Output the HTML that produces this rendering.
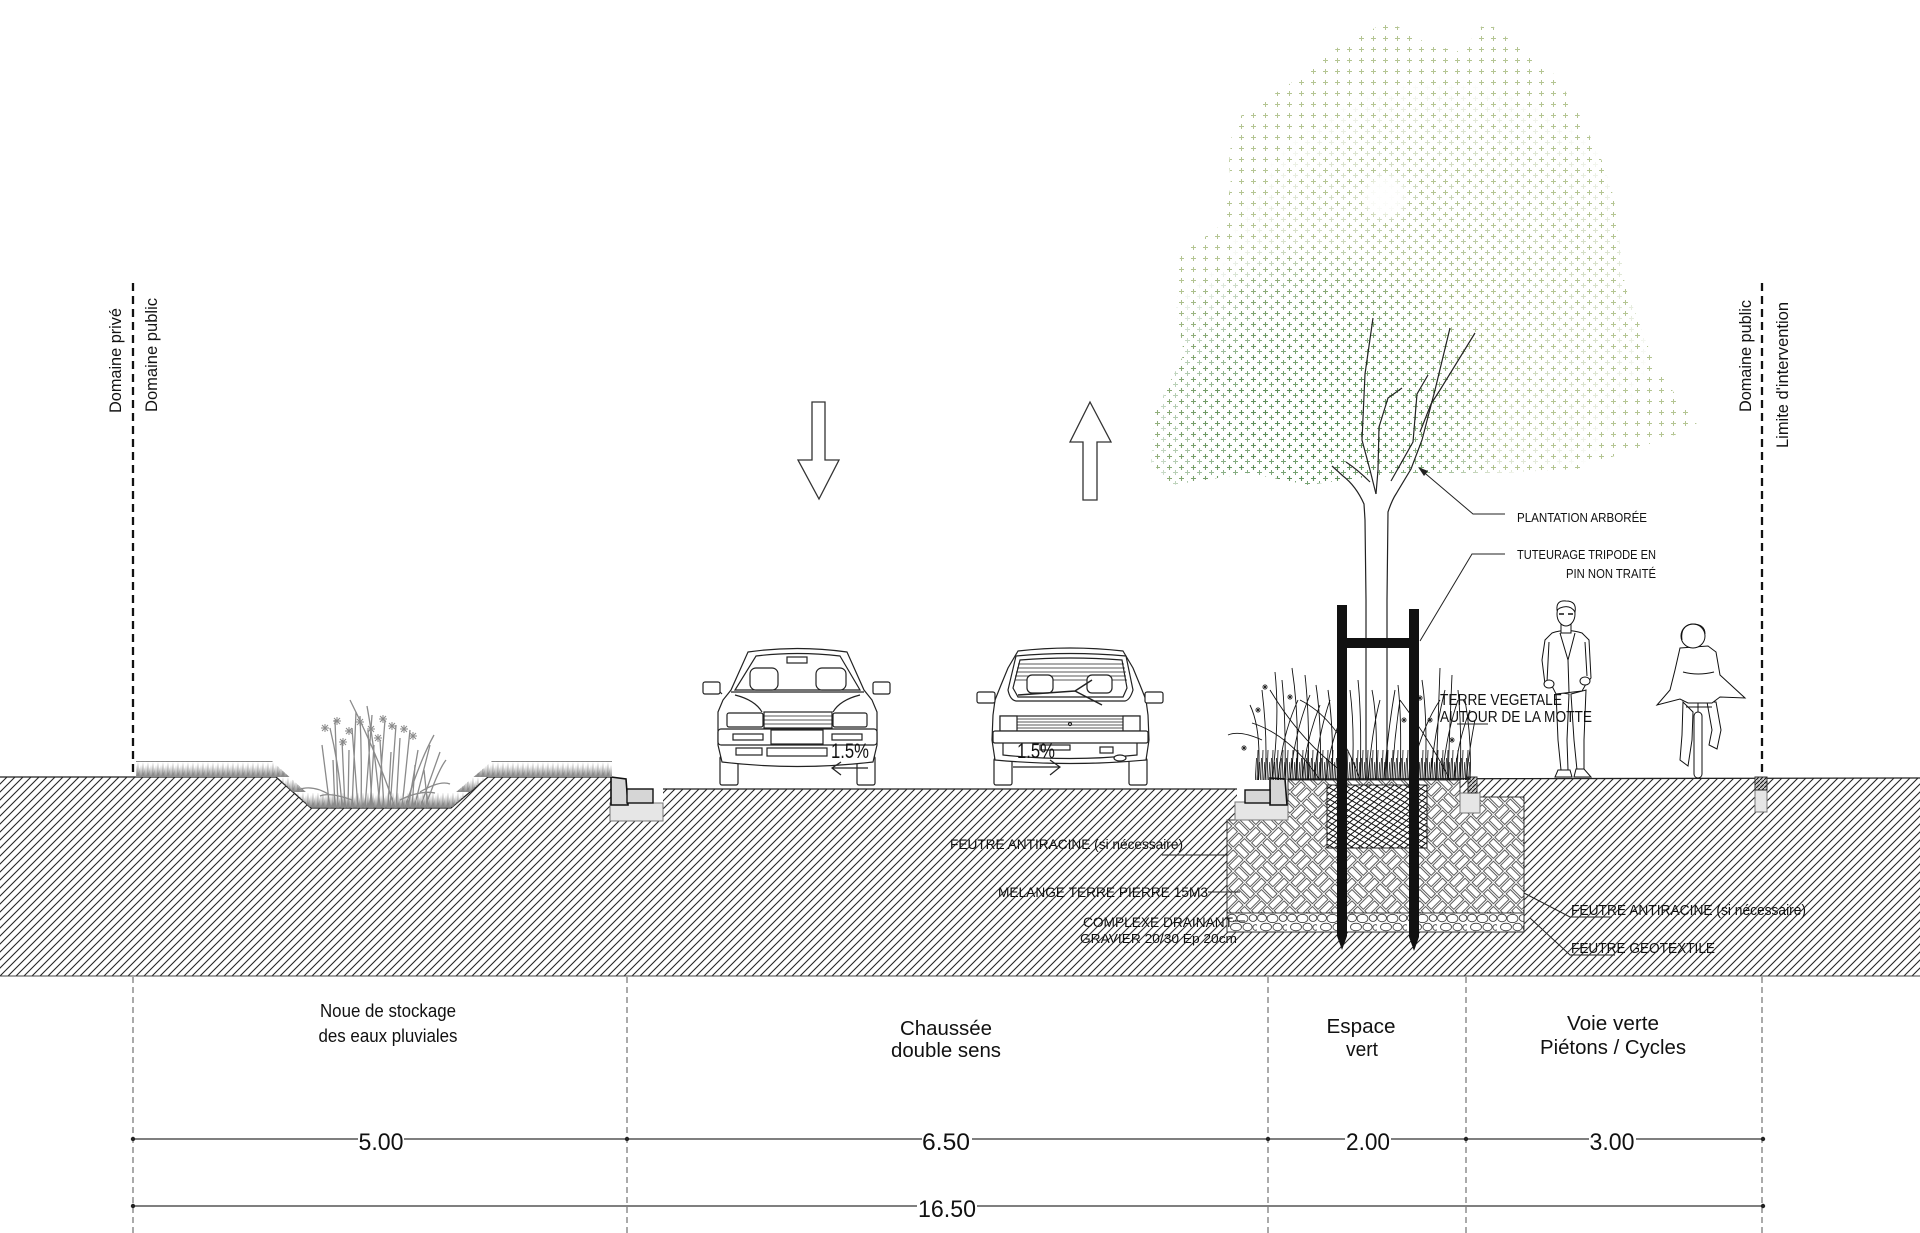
<!DOCTYPE html>
<html><head><meta charset="utf-8">
<style>
html,body{margin:0;padding:0;background:#fff}
svg{display:block}
text{font-family:"Liberation Sans",Arial,sans-serif;fill:#111}
</style></head>
<body>
<svg width="1920" height="1233" viewBox="0 0 1920 1233" xmlns="http://www.w3.org/2000/svg">
<defs>
  <pattern id="hatch" width="8" height="8" patternUnits="userSpaceOnUse">
    <path d="M-1,9 L9,-1 M-1,1 L1,-1 M7,9 L9,7" stroke="#262626" stroke-width="1.1"/>
  </pattern>
  <pattern id="hatchd" width="4" height="4" patternUnits="userSpaceOnUse">
    <rect width="4" height="4" fill="#ccc"/>
    <path d="M-1,5 L5,-1" stroke="#111" stroke-width="1"/>
  </pattern>
  <pattern id="weave" width="32" height="32" patternUnits="userSpaceOnUse" patternTransform="rotate(45)">
    <rect width="32" height="32" fill="#fff"/>
    <g fill="none" stroke="#333" stroke-width="0.8">
      <rect x="1" y="1" width="14" height="6"/><rect x="1" y="9" width="14" height="6"/>
      <rect x="17" y="1" width="6" height="14"/><rect x="25" y="1" width="6" height="14"/>
      <rect x="1" y="17" width="6" height="14"/><rect x="9" y="17" width="6" height="14"/>
      <rect x="17" y="17" width="14" height="6"/><rect x="17" y="25" width="14" height="6"/>
    </g>
  </pattern>
  <pattern id="gravel" x="1227" y="913" width="30" height="19" patternUnits="userSpaceOnUse">
    <g fill="none" stroke="#333" stroke-width="0.8">
      <ellipse cx="5" cy="5" rx="4.5" ry="3.8"/><ellipse cx="15.5" cy="5.5" rx="5.5" ry="4.2"/>
      <ellipse cx="26" cy="5" rx="3.8" ry="3.4"/><ellipse cx="9" cy="14" rx="5.5" ry="3.8"/>
      <ellipse cx="20.5" cy="14" rx="4.6" ry="3.8"/><ellipse cx="28.5" cy="14.5" rx="2.6" ry="2.8"/>
    </g>
  </pattern>
  <pattern id="xh1" width="5" height="5" patternUnits="userSpaceOnUse" patternTransform="rotate(30)">
    <path d="M0,2.5 H5" stroke="#111" stroke-width="1"/>
  </pattern>
  <pattern id="xh2" width="5" height="5" patternUnits="userSpaceOnUse" patternTransform="rotate(-40)">
    <path d="M0,2.5 H5" stroke="#111" stroke-width="1"/>
  </pattern>
  <pattern id="grassG" x="0" y="762" width="5" height="15" patternUnits="userSpaceOnUse">
    <path d="M0,15 L1,3 L2,15 Z M1.8,15 L3,0 L4,15 Z M3.4,15 L4.5,5 L5,15 Z" fill="#8a8a8a"/>
  </pattern>
  <pattern id="grassB" x="0" y="750" width="5" height="30" patternUnits="userSpaceOnUse">
    <path d="M0.3,30 L1.5,8 M2,30 L3,0 M3.6,30 L4.8,12" stroke="#111" stroke-width="0.8" fill="none"/>
  </pattern>
  <pattern id="plusL" width="12" height="11" patternUnits="userSpaceOnUse">
    <path d="M3,5.5 h5 M5.5,3 v5" stroke="#b4c592" stroke-width="1"/>
  </pattern>
  <pattern id="plusM" x="6" y="5" width="12" height="11" patternUnits="userSpaceOnUse">
    <path d="M3,5.5 h5 M5.5,3 v5" stroke="#a4b985" stroke-width="1"/>
  </pattern>
  <pattern id="plusD" width="12" height="11" patternUnits="userSpaceOnUse">
    <path d="M3,5.5 h5 M5.5,3 v5" stroke="#4f8550" stroke-width="1.1"/>
  </pattern>
  <pattern id="plusD2" x="6" y="5" width="12" height="11" patternUnits="userSpaceOnUse">
    <path d="M3,5.5 h5 M5.5,3 v5" stroke="#62945d" stroke-width="1"/>
  </pattern>
  <clipPath id="canopy">
    <path d="M1388,21 L1337,48 L1297,79 L1233,121 L1229,163 L1231,186 L1220,226 L1180,255 L1176,308 L1184,354 L1155,412 L1151,462 L1173,485 L1249,473 L1308,485 L1395,473 L1504,473 L1577,469 L1632,450 L1686,431 L1697,423 L1657,370 L1625,286 L1614,198 L1603,163 L1577,110 L1555,75 L1515,44 L1486,21 L1461,52 L1428,44 L1395,25 Z"/>
  </clipPath>
  <radialGradient id="rgD" gradientUnits="userSpaceOnUse" cx="1310" cy="430" r="190">
    <stop offset="0" stop-color="#fff"/><stop offset="0.5" stop-color="#fff" stop-opacity="0.75"/><stop offset="1" stop-color="#000"/>
  </radialGradient>
  <radialGradient id="rgM" gradientUnits="userSpaceOnUse" cx="1440" cy="300" r="220">
    <stop offset="0" stop-color="#fff"/><stop offset="0.6" stop-color="#fff" stop-opacity="0.5"/><stop offset="1" stop-color="#000"/>
  </radialGradient>
  <radialGradient id="rgH" gradientUnits="userSpaceOnUse" cx="1385" cy="196" r="26">
    <stop offset="0" stop-color="#fff"/><stop offset="0.6" stop-color="#fff" stop-opacity="0.9"/><stop offset="1" stop-color="#fff" stop-opacity="0"/>
  </radialGradient>
  <mask id="mD" maskUnits="userSpaceOnUse" x="1100" y="0" width="700" height="520">
    <rect x="1100" y="0" width="700" height="520" fill="url(#rgD)"/>
  </mask>
  <mask id="mM" maskUnits="userSpaceOnUse" x="1100" y="0" width="700" height="520">
    <rect x="1100" y="0" width="700" height="520" fill="url(#rgM)"/>
  </mask>
  <g id="flw"><path d="M-4,0 h8 M0,-4 v8 M-3,-3 l6,6 M3,-3 l-6,6" stroke="#8a8a8a" stroke-width="1"/></g>
  <g id="flb"><path d="M-3,0 h6 M0,-3 v6 M-2,-2 l4,4 M2,-2 l-4,4" stroke="#222" stroke-width="0.8"/></g>
</defs>

<rect width="1920" height="1233" fill="#fff"/>

<!-- ===== Ground hatch ===== -->
<path d="M0,777 L276,777 L311,808 L451,808 L488,777 L611,777 L611,821 L663,821 L663,789 L1237,789 L1237,820 L1288,820 L1288,779 L1920,778 L1920,976 L0,976 Z" fill="url(#hatch)"/>
<line x1="0" y1="976" x2="1920" y2="976" stroke="#444" stroke-width="1"/>

<!-- planting pit -->
<path d="M1227,820 L1288,820 L1288,780 L1460,780 L1460,797 L1524,797 L1524,913 L1227,913 Z" fill="url(#weave)" stroke="#333" stroke-width="1"/>
<rect x="1227" y="913" width="297" height="19" fill="#fff"/>
<rect x="1227" y="913" width="297" height="19" fill="url(#gravel)" stroke="#333" stroke-width="1"/>
<rect x="1327" y="785" width="100" height="63" fill="#fff"/>
<rect x="1327" y="785" width="100" height="63" fill="url(#xh1)"/>
<rect x="1327" y="785" width="100" height="63" fill="url(#xh2)" stroke="#222" stroke-width="1"/>

<!-- ground outline -->
<path d="M0,777 L276,777 L311,808 L451,808 L488,777 L611,777 M663,789 L1237,789 M1288,779 L1920,778" fill="none" stroke="#222" stroke-width="1.3"/>

<!-- curbs -->
<g stroke="#333" stroke-width="1">
  <rect x="610" y="803" width="53" height="18" fill="#e6e6e6" stroke="#777"/>
  <path d="M611,777 L626,779 L628,805 L611,805 Z" fill="#d6d6d6" stroke="#111" stroke-width="1.6"/>
  <rect x="627" y="789" width="26" height="14" fill="#d6d6d6" stroke="#111" stroke-width="1.4"/>
  <rect x="1235" y="802" width="53" height="18" fill="#e6e6e6" stroke="#777"/>
  <path d="M1270,778 L1285,779 L1287,805 L1270,805 Z" fill="#d6d6d6" stroke="#111" stroke-width="1.6"/>
  <rect x="1245" y="790" width="25" height="13" fill="#d6d6d6" stroke="#111" stroke-width="1.4"/>
  <rect x="1460" y="793" width="20" height="20" fill="#e6e6e6" stroke="#777"/>
  <rect x="1468" y="777" width="9" height="16" fill="url(#hatchd)" stroke="#333"/>
  <rect x="1755" y="790" width="12" height="22" fill="#e6e6e6" stroke="#777"/>
  <rect x="1755" y="777" width="12" height="13" fill="url(#hatchd)" stroke="#333"/>
</g>

<!-- ===== Boundary dashed lines ===== -->
<g stroke="#111" stroke-width="2.3" stroke-dasharray="8 5">
  <line x1="133" y1="283" x2="133" y2="777"/>
  <line x1="1762" y1="283" x2="1762" y2="777"/>
</g>
<text transform="translate(121,360.5) rotate(-90)" text-anchor="middle" font-size="16.5" textLength="105" lengthAdjust="spacingAndGlyphs">Domaine privé</text>
<text transform="translate(157,355) rotate(-90)" text-anchor="middle" font-size="16.5" textLength="114" lengthAdjust="spacingAndGlyphs">Domaine public</text>
<text transform="translate(1751,356) rotate(-90)" text-anchor="middle" font-size="16.5" textLength="112" lengthAdjust="spacingAndGlyphs">Domaine public</text>
<text transform="translate(1788,375) rotate(-90)" text-anchor="middle" font-size="16.5" textLength="146" lengthAdjust="spacingAndGlyphs">Limite d'intervention</text>

<!-- ===== Noue grass ===== -->
<path d="M136,761 L272,761 L307,793 L455,793 L492,761 L612,761 L612,777 L488,777 L451,808 L311,808 L276,777 L136,777 Z" fill="url(#grassG)"/>
<g stroke="#8a8a8a" stroke-width="1.3" fill="none">
  <path d="M330,808 L322,745 M338,808 L335,720 M345,808 L342,740 M352,808 L356,712 M358,808 L352,728 M365,808 L372,715 M372,808 L368,730 M378,808 L385,720 M384,808 L380,740 M390,808 L396,725 M396,808 L400,738 M402,808 L410,730 M408,808 L418,750 M414,808 L430,745 M420,808 L440,752"/>
  <path d="M395,808 Q380,760 350,700 M380,808 Q375,750 367,706 M361,808 Q362,760 360,716 M342,808 Q340,770 330,728 M405,808 Q420,760 434,735 M425,808 Q438,770 446,760"/>
  <path d="M330,795 Q312,784 298,790 M420,792 Q440,780 450,784 M352,800 Q330,792 320,796 M400,800 Q420,790 435,793"/>
  <path d="M335,808 L333,760 M348,808 L349,750 M370,808 L374,745 M388,808 L391,752 M412,808 L415,765 M428,808 L424,770"/>
</g>
<g>
  <use href="#flw" x="325" y="728"/><use href="#flw" x="337" y="721"/><use href="#flw" x="349" y="731"/>
  <use href="#flw" x="360" y="722"/><use href="#flw" x="371" y="729"/><use href="#flw" x="383" y="719"/>
  <use href="#flw" x="392" y="726"/><use href="#flw" x="404" y="729"/><use href="#flw" x="413" y="736"/>
  <use href="#flw" x="343" y="742"/><use href="#flw" x="378" y="738"/>
</g>

<!-- ===== Direction arrows ===== -->
<g fill="#fff" stroke="#333" stroke-width="1.3">
  <path d="M812,402 L825,402 L825,460 L839,460 L819,499 L798,460 L812,460 Z"/>
  <path d="M1090,402 L1111,442 L1097,442 L1097,500 L1083,500 L1083,442 L1070,442 Z"/>
</g>

<!-- ===== Car 1 (front) ===== -->
<g fill="#fff" stroke="#222" stroke-width="1.2">
  <rect x="720" y="756" width="18" height="29" rx="2"/>
  <rect x="857" y="756" width="18" height="29" rx="2"/>
  <path d="M748,652 Q797,645 847,652 L864,690 L872,700 L877,712 L877,745 L873,762 Q797,771 722,762 L718,745 L718,712 L723,700 L731,690 Z"/>
  <path d="M756,656 Q797,651 840,656 L860,690 L735,690 Z"/>
  <rect x="750" y="668" width="28" height="22" rx="6"/>
  <rect x="816" y="668" width="30" height="22" rx="6"/>
  <rect x="787" y="657" width="20" height="6"/>
  <path d="M731,692 L864,692 M735,695 Q755,700 762,712 M860,695 Q840,700 833,712" fill="none"/>
  <path d="M722,694 L716,688" fill="none"/>
  <rect x="703" y="682" width="17" height="12" rx="2"/>
  <path d="M873,694 L879,688" fill="none"/>
  <rect x="873" y="682" width="17" height="12" rx="2"/>
  <rect x="727" y="713" width="36" height="14" rx="2"/>
  <rect x="833" y="713" width="34" height="14" rx="2"/>
  <rect x="764" y="712" width="68" height="16"/>
  <path d="M764,716 H832 M764,720 H832 M764,724 H832" fill="none" stroke-width="0.8"/>
  <rect x="718" y="729" width="159" height="16" rx="3"/>
  <rect x="771" y="730" width="52" height="14"/>
  <rect x="733" y="734" width="30" height="6"/>
  <rect x="832" y="734" width="30" height="6"/>
  <rect x="736" y="748" width="26" height="7"/>
  <rect x="767" y="748" width="60" height="8"/>
</g>
<text x="831" y="758" font-size="21" textLength="38" lengthAdjust="spacingAndGlyphs">1.5%</text>
<path d="M832,768 L868,768 M841,762 L832,768 L841,775" fill="none" stroke="#222" stroke-width="1.2"/>

<!-- ===== Car 2 (rear) ===== -->
<g fill="#fff" stroke="#222" stroke-width="1.2">
  <rect x="994" y="758" width="18" height="27" rx="2"/>
  <rect x="1129" y="758" width="18" height="27" rx="2"/>
  <path d="M1018,651 Q1070,645 1123,651 L1133,668 L1140,685 L1146,700 L1148,715 L1149,740 L1146,760 Q1070,767 995,760 L992,740 L993,715 L995,700 L1001,685 L1008,668 Z"/>
  <path d="M1016,656 Q1070,651 1126,656 L1133,690 Q1130,700 1125,701 L1016,701 Q1010,700 1008,690 Z"/>
  <path d="M1020,660 Q1070,656 1122,660 L1127,688 L1123,697 L1018,697 L1013,688 Z"/>
  <path d="M1018,664 H1124 M1017,668 H1125 M1016,672 H1126 M1015,676 H1126 M1015,680 H1127" fill="none" stroke-width="0.7"/>
  <rect x="1027" y="675" width="26" height="18" rx="5"/>
  <rect x="1087" y="675" width="25" height="18" rx="5"/>
  <path d="M1018,695 L1075,691 M1075,691 L1092,680 M1075,691 L1102,705" fill="none" stroke-width="1.5"/>
  <rect x="977" y="692" width="18" height="11" rx="2"/>
  <rect x="1145" y="692" width="18" height="11" rx="2"/>
  <rect x="1000" y="716" width="140" height="15"/>
  <path d="M1017,719 H1123 M1017,722 H1123 M1017,725 H1123 M1017,728 H1123" fill="none" stroke-width="0.7"/>
  <rect x="1000" y="716" width="17" height="15"/>
  <rect x="1123" y="716" width="17" height="15"/>
  <rect x="993" y="731" width="155" height="12" rx="2"/>
  <path d="M1003,743 L1003,755 Q1070,762 1137,755 L1137,743" fill="none"/>
  <rect x="1100" y="747" width="13" height="6"/>
  <ellipse cx="1120" cy="758" rx="6" ry="3"/>
  <rect x="1040" y="745" width="30" height="5"/>
  <circle cx="1070" cy="724" r="1.5"/>
</g>
<text x="1017" y="758" font-size="21" textLength="38" lengthAdjust="spacingAndGlyphs">1.5%</text>
<path d="M1013,767 L1060,767 M1050,760 L1060,767 L1050,775" fill="none" stroke="#222" stroke-width="1.2"/>

<!-- ===== Tree canopy ===== -->
<g clip-path="url(#canopy)">
  <rect x="1140" y="10" width="570" height="490" fill="url(#plusL)"/>
  <rect x="1140" y="10" width="570" height="490" fill="url(#plusM)" mask="url(#mM)"/>
  <rect x="1140" y="10" width="570" height="490" fill="url(#plusD)" mask="url(#mD)"/>
  <rect x="1140" y="10" width="570" height="490" fill="url(#plusD2)" mask="url(#mD)"/>
  <ellipse cx="1385" cy="196" rx="24" ry="28" fill="url(#rgH)"/>
</g>

<!-- trunk & branches -->
<g fill="none" stroke="#222" stroke-width="1.2">
  <path d="M1366,780 L1366,600 L1365,520 L1364,504 Q1356,486 1343,476 L1332,466"/>
  <path d="M1370,482 Q1358,470 1346,462"/>
  <path d="M1387,780 L1387,600 L1388,512 Q1392,500 1396,494 L1411,469 L1422,440 L1435,390 L1450,328"/>
  <path d="M1391,481 L1413,442 L1417,394 L1428,375"/>
  <path d="M1475,333 L1440,390 L1431,404 L1420,432"/>
  <path d="M1376,494 L1378,470 L1379,427 L1388,398 L1402,388"/>
  <path d="M1373,318 L1365,374 L1362,440 L1370,470 L1376,494"/>
</g>

<!-- pit plants -->
<rect x="1255" y="750" width="215" height="30" fill="url(#grassB)"/>
<g fill="none" stroke="#111" stroke-width="0.9">
  <path d="M1258,780 Q1262,730 1250,705 M1265,780 Q1268,740 1262,690 M1272,780 Q1280,720 1275,672 M1278,780 Q1282,735 1298,700 M1285,780 Q1286,720 1282,680 M1290,780 Q1295,730 1310,695 M1296,780 Q1300,720 1292,668 M1302,780 Q1306,740 1320,705 M1308,780 Q1310,720 1305,675 M1314,780 Q1318,735 1330,700 M1320,780 Q1322,725 1316,685 M1326,780 Q1330,740 1345,710 M1332,780 Q1334,730 1328,690"/>
  <path d="M1252,723 Q1290,735 1320,780 M1270,690 Q1300,740 1340,770 M1300,700 Q1340,720 1360,780 M1262,740 Q1240,730 1228,735"/>
  <path d="M1352,780 Q1355,730 1350,690 M1360,780 Q1362,720 1358,680 M1368,780 Q1372,730 1380,700 M1376,780 Q1378,720 1372,690 M1384,780 Q1388,730 1395,690 M1392,780 Q1394,740 1400,700 M1400,780 Q1402,720 1398,685"/>
  <path d="M1425,780 Q1428,720 1422,680 M1430,780 Q1435,730 1445,690 M1436,780 Q1438,720 1440,668 M1442,780 Q1446,735 1458,700 M1448,780 Q1450,720 1452,675 M1454,780 Q1458,740 1470,710 M1460,780 Q1462,730 1458,690 M1466,780 Q1470,745 1475,720 M1470,780 Q1472,740 1465,700 M1400,700 Q1430,740 1450,780 M1410,780 Q1420,730 1440,700"/>
</g>
<g>
  <use href="#flb" x="1265" y="687"/><use href="#flb" x="1258" y="710"/><use href="#flb" x="1290" y="697"/>
  <use href="#flb" x="1404" y="720"/><use href="#flb" x="1412" y="712"/><use href="#flb" x="1420" y="698"/>
  <use href="#flb" x="1430" y="720"/><use href="#flb" x="1244" y="748"/><use href="#flb" x="1452" y="740"/>
</g>

<!-- stakes -->
<g fill="#111">
  <path d="M1337,605 L1347,605 L1347,936 L1342,950 L1337,936 Z"/>
  <path d="M1409,609 L1419,609 L1419,937 L1414,951 L1409,937 Z"/>
  <rect x="1347" y="638" width="62" height="10"/>
</g>

<!-- pedestrian -->
<g fill="#fff" stroke="#111" stroke-width="1">
  <path d="M1556,692 L1558,740 L1561,770 L1568,770 L1567,740 L1569,694 Z"/>
  <path d="M1571,694 L1574,740 L1577,770 L1584,770 L1584,740 L1586,690 Z"/>
  <path d="M1558,770 L1570,770 L1572,777 L1555,777 Z"/>
  <path d="M1576,769 L1584,769 L1591,777 L1574,777 Z"/>
  <path d="M1552,633 Q1566,628 1582,633 L1589,640 L1591,678 L1586,684 L1582,691 L1556,694 L1552,686 L1545,684 L1542,660 L1545,640 Z"/>
  <path d="M1560,633 L1568,660 L1575,633 M1568,660 L1569,692 M1549,642 L1547,682 M1585,642 L1587,676" fill="none"/>
  <ellipse cx="1549" cy="684" rx="5" ry="4"/>
  <ellipse cx="1585" cy="681" rx="5" ry="4"/>
  <rect x="1561" y="624" width="10" height="9"/>
  <ellipse cx="1566" cy="614" rx="9" ry="12"/>
  <path d="M1557,610 Q1556,600 1566,601 Q1577,601 1575,612 Q1570,604 1560,608 Z" fill="#fff"/>
  <path d="M1559,614 h5 M1568,614 h5" fill="none" stroke-width="1.4"/>
</g>

<!-- cyclist -->
<g fill="#fff" stroke="#111" stroke-width="1">
  <rect x="1694" y="712" width="8" height="66" rx="4"/>
  <path d="M1683,702 L1682,735 L1680,760 L1688,766 L1692,740 L1693,712 Z"/>
  <path d="M1707,702 L1712,730 L1709,745 L1717,749 L1721,730 L1716,702 Z"/>
  <path d="M1680,648 L1708,646 L1716,652 L1720,675 L1745,698 L1720,697 L1712,703 L1688,703 L1680,699 L1657,705 L1670,690 L1675,670 Z"/>
  <path d="M1686,707 L1712,707 M1698,703 L1698,712 M1683,672 Q1698,676 1714,672" fill="none"/>
  <circle cx="1693" cy="636" r="12"/>
  <path d="M1682,640 Q1680,626 1692,624 Q1705,624 1705,634" fill="none"/>
</g>

<!-- ===== Labels with leaders ===== -->
<g fill="none" stroke="#222" stroke-width="1">
  <path d="M1420,469 L1473,514 L1505,514"/>
  <path d="M1505,554 L1472,554 L1420,641"/>
  <path d="M1457,724 L1488,724"/>
  <path d="M1162,855 L1227,855"/>
  <path d="M1208,892 L1240,892"/>
  <path d="M1233,921 L1245,921"/>
  <path d="M1524,893 L1570,917 L1612,917"/>
  <path d="M1530,918 L1570,955 L1615,955"/>
</g>
<path d="M1418,467 L1428,471 L1424,476 Z" fill="#222"/>

<text x="1517" y="522" font-size="12.5" textLength="130" lengthAdjust="spacingAndGlyphs">PLANTATION ARBORÉE</text>
<text x="1517" y="559" font-size="12.5" textLength="139" lengthAdjust="spacingAndGlyphs">TUTEURAGE TRIPODE EN</text>
<text x="1566" y="578" font-size="12.5" textLength="90" lengthAdjust="spacingAndGlyphs">PIN NON TRAITÉ</text>
<text x="1440" y="705" font-size="16" textLength="122" lengthAdjust="spacingAndGlyphs">TERRE VEGETALE</text>
<text x="1440" y="722" font-size="16" textLength="152" lengthAdjust="spacingAndGlyphs">AUTOUR DE LA MOTTE</text>

<text x="950" y="849" font-size="14" textLength="233" lengthAdjust="spacingAndGlyphs">FEUTRE ANTIRACINE (si nécessaire)</text>
<text x="998" y="897" font-size="14" textLength="210" lengthAdjust="spacingAndGlyphs">MELANGE TERRE PIERRE 15M3</text>
<text x="1083" y="927" font-size="14" textLength="150" lengthAdjust="spacingAndGlyphs">COMPLEXE DRAINANT</text>
<text x="1080" y="943" font-size="13" textLength="157" lengthAdjust="spacingAndGlyphs">GRAVIER 20/30 Ep 20cm</text>
<text x="1571" y="915" font-size="15" textLength="235" lengthAdjust="spacingAndGlyphs">FEUTRE ANTIRACINE (si nécessaire)</text>
<text x="1571" y="953" font-size="15" textLength="144" lengthAdjust="spacingAndGlyphs">FEUTRE GEOTEXTILE</text>

<!-- ===== Bottom section ===== -->
<g stroke="#555" stroke-width="1" stroke-dasharray="6 4">
  <line x1="133" y1="977" x2="133" y2="1233"/>
  <line x1="627" y1="977" x2="627" y2="1233"/>
  <line x1="1268" y1="977" x2="1268" y2="1233"/>
  <line x1="1466" y1="977" x2="1466" y2="1233"/>
  <line x1="1762" y1="977" x2="1762" y2="1233"/>
</g>

<g text-anchor="middle">
  <text x="388" y="1017" font-size="18" textLength="136" lengthAdjust="spacingAndGlyphs">Noue de stockage</text>
  <text x="388" y="1042" font-size="18" textLength="139" lengthAdjust="spacingAndGlyphs">des eaux pluviales</text>
  <text x="946" y="1035" font-size="20" textLength="92" lengthAdjust="spacingAndGlyphs">Chaussée</text>
  <text x="946" y="1057" font-size="20" textLength="110" lengthAdjust="spacingAndGlyphs">double sens</text>
  <text x="1361" y="1033" font-size="20" textLength="69" lengthAdjust="spacingAndGlyphs">Espace</text>
  <text x="1362" y="1056" font-size="20" textLength="32" lengthAdjust="spacingAndGlyphs">vert</text>
  <text x="1613" y="1030" font-size="20" textLength="92" lengthAdjust="spacingAndGlyphs">Voie verte</text>
  <text x="1613" y="1054" font-size="20" textLength="146" lengthAdjust="spacingAndGlyphs">Piétons / Cycles</text>
</g>

<line x1="133" y1="1139" x2="1763" y2="1139" stroke="#333" stroke-width="1.3"/>
<line x1="133" y1="1206" x2="1763" y2="1206" stroke="#333" stroke-width="1.3"/>
<g fill="#fff">
  <rect x="358" y="1129" width="46" height="24"/>
  <rect x="922" y="1129" width="50" height="24"/>
  <rect x="1345" y="1129" width="46" height="24"/>
  <rect x="1589" y="1129" width="47" height="24"/>
  <rect x="917" y="1196" width="60" height="24"/>
</g>
<g fill="#222">
  <circle cx="133" cy="1139" r="2.2"/><circle cx="627" cy="1139" r="2.2"/><circle cx="1268" cy="1139" r="2.2"/>
  <circle cx="1466" cy="1139" r="2.2"/><circle cx="1763" cy="1139" r="2.2"/>
  <circle cx="133" cy="1206" r="2.2"/><circle cx="1763" cy="1206" r="2.2"/>
</g>
<g text-anchor="middle" font-size="24">
  <text x="381" y="1150" textLength="45" lengthAdjust="spacingAndGlyphs">5.00</text>
  <text x="946" y="1150" textLength="48" lengthAdjust="spacingAndGlyphs">6.50</text>
  <text x="1368" y="1150" textLength="44" lengthAdjust="spacingAndGlyphs">2.00</text>
  <text x="1612" y="1150" textLength="45" lengthAdjust="spacingAndGlyphs">3.00</text>
  <text x="947" y="1217" textLength="58" lengthAdjust="spacingAndGlyphs">16.50</text>
</g>
</svg>
</body></html>
